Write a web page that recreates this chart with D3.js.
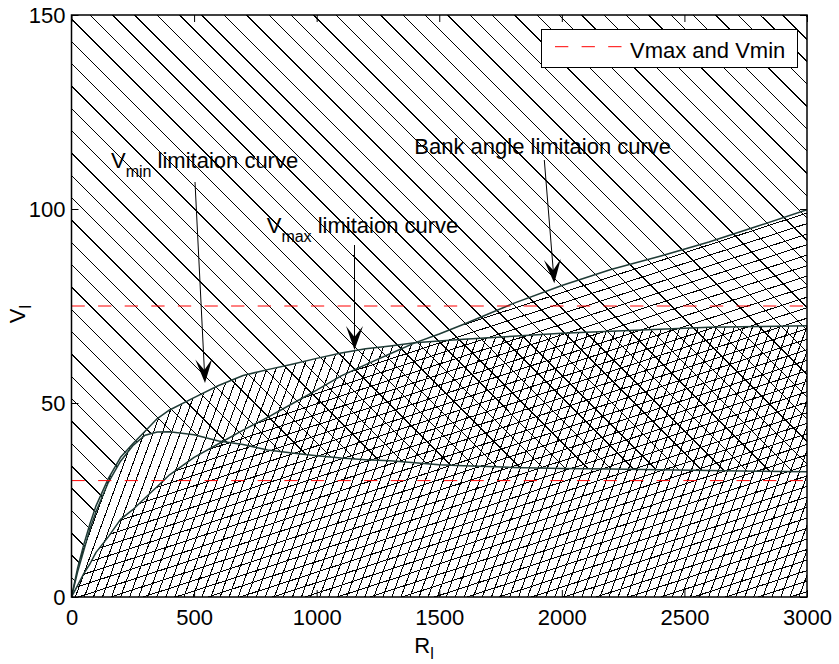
<!DOCTYPE html>
<html>
<head>
<meta charset="utf-8">
<script src="https://cdn.jsdelivr.net/npm/d3@7"></script>
<style>
  html, body { margin: 0; padding: 0; background: #fff; }
  svg { display: block; font-family: "Liberation Sans", Arial, Helvetica, sans-serif; }
</style>
</head>
<body>
<svg id="chart" width="839" height="664"></svg>
<script>
// Turn radius R_l (m) sample points
const radius = [0, 25, 50, 75, 100, 150, 200, 250, 300, 350, 400, 500, 600, 700, 800, 900,
  1000, 1100, 1200, 1300, 1400, 1500, 1600, 1800, 2000, 2200, 2400, 2600, 2800, 3000];
// Speed limitation curves V_l at each radius
const vmaxCurve = [0, 7.5, 13.5, 18.8, 23.5, 30.5, 36, 39.5, 42.7, 46, 48.2, 51.4, 54.5, 57.1, 58.6, 60,
  61.5, 62.9, 64, 64.7, 65.5, 66, 66.4, 67.2, 68, 68.5, 69, 69.5, 69.7, 69.9];
const vminCurve = [0, 6.5, 12, 17.5, 22, 29.5, 35, 39, 41.7, 42.5, 42.6, 41.8, 40.2, 39.3, 37.9, 37.1,
  36.4, 35.8, 35.4, 35.1, 34.6, 34.1, 33.8, 33.4, 33.1, 33, 32.8, 32.6, 32.4, 32.3];
const bankCurve = [0, 3, 6, 8.5, 11.5, 15.5, 20, 22.5, 25.5, 28.5, 31.5, 36, 39.5, 43, 46.3, 49.8,
  53.3, 57, 59.9, 62.7, 65.5, 67.8, 70.3, 75.6, 80.3, 84.4, 87.8, 91.5, 95.6, 99.8];
// Horizontal speed bounds (Vmax, Vmin)
const speedBounds = [75, 30];
const xTicks = [0, 500, 1000, 1500, 2000, 2500, 3000];
const yTicks = [0, 50, 100, 150];
const legendLabel = "Vmax and Vmin";

const box = { left: 71.5, right: 807, top: 15, bottom: 597 };
const FONT = 22;

const x = d3.scaleLinear().domain([0, 3000]).range([box.left, box.right]);
const y = d3.scaleLinear().domain([0, 150]).range([box.bottom, box.top]);

const svg = d3.select("#chart");
const defs = svg.append("defs");

const pts = vals => radius.map((r, i) => [r, vals[i]]);

// Clip regions for the three hatched zones
const aboveArea = d3.area().x(d => x(d[0])).y0(y(150)).y1(d => y(d[1]));
const belowArea = d3.area().x(d => x(d[0])).y0(y(0)).y1(d => y(d[1]));

defs.append("clipPath").attr("id", "clipBox")
  .append("rect").attr("x", box.left).attr("y", box.top)
  .attr("width", box.right - box.left).attr("height", box.bottom - box.top);
defs.append("clipPath").attr("id", "clipAboveVmin")
  .append("path").attr("d", aboveArea(pts(vminCurve)));
defs.append("clipPath").attr("id", "clipBelowVmax")
  .append("path").attr("d", belowArea(pts(vmaxCurve)));
defs.append("clipPath").attr("id", "clipBelowBank")
  .append("path").attr("d", belowArea(pts(bankCurve)));

// Parallel hatch lines at a screen angle, perpendicular spacing and phase
function hatch(clipId, angleDeg, spacing, phase) {
  const a = angleDeg * Math.PI / 180;
  const dx = Math.cos(a), dy = -Math.sin(a);
  const nx = -dy, ny = dx;
  const corners = [[box.left, box.top], [box.right, box.top], [box.left, box.bottom], [box.right, box.bottom]];
  const proj = corners.map(c => c[0] * nx + c[1] * ny);
  const lo = Math.min(...proj), hi = Math.max(...proj);
  const k0 = Math.floor((lo - phase) / spacing), k1 = Math.ceil((hi - phase) / spacing);
  const L = 3000;
  const segs = d3.range(k0, k1 + 1).map(k => {
    const d = phase + k * spacing;
    const cx = nx * d, cy = ny * d;
    return [cx - dx * L, cy - dy * L, cx + dx * L, cy + dy * L];
  });
  const outer = svg.append("g").attr("clip-path", "url(#clipBox)");
  outer.append("g").attr("clip-path", `url(#${clipId})`)
    .selectAll("line").data(segs).join("line")
    .attr("x1", d => d[0]).attr("y1", d => d[1])
    .attr("x2", d => d[2]).attr("y2", d => d[3])
    .attr("stroke", "#000").attr("stroke-width", 1)
    .attr("shape-rendering", "crispEdges");
}

hatch("clipAboveVmin", -45, 15.8, -53.0);
hatch("clipBelowVmax", 70, 8.5, 3);
hatch("clipBelowBank", 18, 10.0, 2);

// Limitation curves
const line = d3.line().x(d => x(d[0])).y(d => y(d[1]));
const curves = svg.append("g").attr("clip-path", "url(#clipBox)");
[vminCurve, bankCurve, vmaxCurve].forEach(c => {
  curves.append("path").attr("d", line(pts(c)))
    .attr("fill", "none").attr("stroke", "#1f3b36").attr("stroke-width", 1.5)
    .attr("stroke-linejoin", "round");
});

// Vmax / Vmin bounds
svg.append("g").selectAll("line").data(speedBounds).join("line")
  .attr("x1", x(0)).attr("x2", x(3000))
  .attr("y1", d => y(d)).attr("y2", d => y(d))
  .attr("stroke", "#ff0000").attr("stroke-width", 1)
  .attr("stroke-dasharray", "13.3,13.3");

// Annotations with arrows
function arrow(x1, y1, x2, y2) {
  const g = svg.append("g");
  const ang = Math.atan2(y2 - y1, x2 - x1);
  const Lh = 24, Wh = 17, notch = 13;
  g.append("line").attr("x1", x1).attr("y1", y1).attr("x2", x2 - Math.cos(ang) * 10).attr("y2", y2 - Math.sin(ang) * 10)
    .attr("stroke", "#000").attr("stroke-width", 1);
  const ux = Math.cos(ang), uy = Math.sin(ang), px = -uy, py = ux;
  const head = [
    [x2, y2],
    [x2 - ux * Lh + px * Wh / 2, y2 - uy * Lh + py * Wh / 2],
    [x2 - ux * notch, y2 - uy * notch],
    [x2 - ux * Lh - px * Wh / 2, y2 - uy * Lh - py * Wh / 2]
  ];
  g.append("path").attr("d", "M" + head.map(p => p.join(",")).join("L") + "Z").attr("fill", "#000");
}

function subLabel(xp, yp, main, sub, rest) {
  const t = svg.append("text").attr("x", xp).attr("y", yp)
    .attr("font-size", FONT).attr("fill", "#000");
  t.append("tspan").text(main);
  if (sub) t.append("tspan").attr("font-size", 16).attr("dy", 9).text(sub);
  if (rest) t.append("tspan").attr("dy", sub ? -9 : 0).text(rest);
  return t;
}

subLabel(111, 168, "V", "min", " limitaion curve");
subLabel(266.7, 232.7, "V", "max", " limitaion curve");
subLabel(414.3, 154.3, "Bank angle limitaion curve", null, null);

arrow(195, 182, 205, 383);
arrow(354.5, 245, 354.5, 350);
arrow(544.3, 160, 554.3, 283.3);

// Axes with inward ticks on all four sides
const axes = svg.append("g");
const axBottom = axes.append("g").attr("transform", `translate(0,${box.bottom})`)
  .call(d3.axisBottom(x).tickValues(xTicks).tickSizeInner(-7).tickSizeOuter(0).tickPadding(12).tickFormat(d3.format("d")));
const axLeft = axes.append("g").attr("transform", `translate(${box.left},0)`)
  .call(d3.axisLeft(y).tickValues(yTicks).tickSizeInner(-7).tickSizeOuter(0).tickPadding(6).tickFormat(d3.format("d")));
const axTop = axes.append("g").attr("transform", `translate(0,${box.top})`)
  .call(d3.axisTop(x).tickValues(xTicks).tickSizeInner(-7).tickSizeOuter(0).tickFormat(""));
const axRight = axes.append("g").attr("transform", `translate(${box.right},0)`)
  .call(d3.axisRight(y).tickValues(yTicks).tickSizeInner(-7).tickSizeOuter(0).tickFormat(""));
[axBottom, axLeft, axTop, axRight].forEach(g => {
  g.select(".domain").remove();
  g.selectAll("text").attr("font-size", FONT).attr("font-family", "Liberation Sans, Arial, sans-serif").attr("fill", "#000");
  g.selectAll(".tick line").attr("stroke", "#000").attr("stroke-width", 1);
});
axes.append("rect").attr("x", box.left).attr("y", box.top)
  .attr("width", box.right - box.left).attr("height", box.bottom - box.top)
  .attr("fill", "none").attr("stroke", "#000").attr("stroke-width", 1.5);

// Axis titles
const xt = svg.append("text").attr("x", 424).attr("y", 653).attr("text-anchor", "middle")
  .attr("font-size", FONT).attr("fill", "#000");
xt.append("tspan").text("R");
xt.append("tspan").attr("font-size", 16).attr("dy", 6).text("l");
const yt = svg.append("text").attr("transform", "translate(25,314) rotate(-90)").attr("text-anchor", "middle")
  .attr("font-size", FONT).attr("fill", "#000");
yt.append("tspan").text("V");
yt.append("tspan").attr("font-size", 16).attr("dy", 6).text("l");

// Legend
const lg = svg.append("g");
lg.append("rect").attr("x", 541.5).attr("y", 29.5).attr("width", 256).attr("height", 38)
  .attr("fill", "#fff").attr("stroke", "#000").attr("stroke-width", 1);
lg.append("line").attr("x1", 555).attr("x2", 623).attr("y1", 46.7).attr("y2", 46.7)
  .attr("stroke", "#ff0000").attr("stroke-width", 1).attr("stroke-dasharray", "13.3,13.3");
lg.append("text").attr("x", 630).attr("y", 58).attr("font-size", FONT).attr("fill", "#000").text(legendLabel);
</script>
</body>
</html>
